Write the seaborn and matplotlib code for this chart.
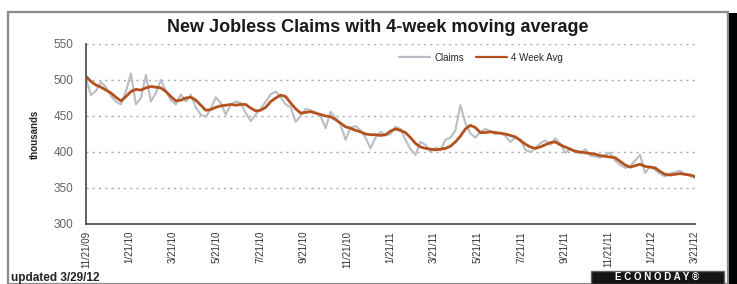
import numpy as np
import pandas as pd
import matplotlib.pyplot as plt
import seaborn as sns
from matplotlib.patches import Rectangle

# Weekly initial jobless claims (thousands)
claims = [502, 479, 485, 497, 490, 478, 470, 466, 484, 509,
          466, 475, 507, 470, 482, 500, 485, 472, 466, 480,
          470, 480, 462, 452, 449, 460, 476, 468, 452, 466,
          470, 468, 454, 443, 452, 460, 470, 480, 484, 476,
          466, 462, 442, 450, 460, 458, 455, 450, 433, 456,
          447, 438, 417, 434, 436, 430, 420, 405, 420, 428,
          423, 425, 435, 432, 417, 404, 396, 414, 410, 400,
          406, 402, 417, 420, 430, 465, 440, 426, 420, 428,
          432, 429, 425, 427, 422, 414, 420, 418, 403, 400,
          405, 412, 416, 410, 419, 412, 399, 404, 400, 398,
          404, 395, 394, 392, 396, 399, 388, 382, 378, 380,
          388, 396, 371, 380, 375, 370, 366, 370, 372, 374,
          369, 367, 364]

avg4 = [505, 498, 493, 490, 486, 482, 476, 471, 477, 484,
        487, 486, 489, 491, 490, 489, 484, 477, 471, 472,
        475, 476, 472, 465, 458, 459, 462, 464, 465, 466,
        465, 466, 466, 461, 457, 458, 462, 470, 475, 479,
        477, 468, 460, 454, 455, 456, 454, 452, 450, 449,
        445, 440, 435, 433, 430, 428, 425, 424, 424, 423,
        424, 429, 432, 430, 427, 420, 412, 407, 405, 404,
        403, 404, 405, 408, 414, 422, 432, 437, 434, 427,
        427, 428, 427, 426, 425, 423, 421, 416, 411, 407,
        405, 407, 410, 413, 414, 410, 407, 404, 401, 400,
        399, 398, 397, 395, 394, 393, 392, 387, 382, 379,
        381, 383, 380, 379, 378, 373, 369, 368, 369, 370,
        369, 368, 366]

tick_labels = ['11/21/09', '1/21/10', '3/21/10', '5/21/10', '7/21/10',
               '9/21/10', '11/21/10', '1/21/11', '3/21/11', '5/21/11',
               '7/21/11', '9/21/11', '11/21/11', '1/21/12', '3/21/12']

df = pd.DataFrame({'week': np.arange(len(claims)), 'Claims': claims, '4 Week Avg': avg4})

sns.set_style("white")
plt.rcParams['font.family'] = ['Liberation Sans', 'DejaVu Sans']

fig = plt.figure(figsize=(7.37, 2.84), dpi=100)
W, H = 737, 284
ax = fig.add_axes([86 / W, 1 - 224 / H, (695 - 86) / W, (224 - 44) / H])

# chart frame, right-hand dark strip, logo box
fig.patches.append(Rectangle((8 / W, 0), 720 / W, 1 - 12 / H, transform=fig.transFigure,
                             fill=False, edgecolor='#8a8a8a', lw=1.6))
fig.patches.append(Rectangle((729 / W, 0), 8 / W, 1 - 13 / H, transform=fig.transFigure,
                             facecolor='black', edgecolor='none'))
fig.patches.append(Rectangle((591 / W, 0), 133 / W, 13 / H, transform=fig.transFigure,
                             facecolor='#151515', edgecolor='#666666', lw=1))

sns.lineplot(data=df, x='week', y='Claims', ax=ax, color='#b9bec6', lw=1.5, label='Claims')
sns.lineplot(data=df, x='week', y='4 Week Avg', ax=ax, color='#b4521e', lw=2, label='4 Week Avg')

ax.set_xlim(0, len(claims) - 1)
ax.set_ylim(300, 550)
ax.set_yticks([300, 350, 400, 450, 500, 550])
ax.set_xticks(np.linspace(0, len(claims) - 1, len(tick_labels)))
ax.set_xticklabels(tick_labels, rotation=90, fontsize=7, color='#333333')
ax.tick_params(axis='y', labelsize=8.5, labelcolor='#666666', length=3, width=1, color='#555555', pad=6)
ax.tick_params(axis='x', length=3, width=1, color='#555555', direction='out', pad=2)
ax.yaxis.grid(True, ls=(0, (1.5, 3)), color='#aaaaaa', lw=1)
ax.set_axisbelow(True)
for s in ['top', 'right']:
    ax.spines[s].set_visible(False)
for s in ['left', 'bottom']:
    ax.spines[s].set_color('#555555')
    ax.spines[s].set_linewidth(1.3)
ax.set_xlabel('')
ax.set_ylabel('thousands', fontsize=7, fontweight='bold', labelpad=10)

leg = ax.legend(loc='upper left', bbox_to_anchor=(0.50, 1.0), ncol=2, frameon=False,
                fontsize=7, handlelength=3.2, columnspacing=1.2, handletextpad=0.4)
for line in leg.get_lines():
    line.set_linewidth(1.6)

fig.text(378 / W, 1 - 27 / H, 'New Jobless Claims with 4-week moving average',
         ha='center', va='center', fontsize=13, fontweight='bold', color='#1a1a1a')
fig.text(11 / W, 1 - 278 / H, 'updated 3/29/12', ha='left', va='center',
         fontsize=8.5, fontweight='bold', color='#222222')
fig.text(657 / W, 1 - 277 / H, 'E C O N O D A Y \u00ae', ha='center', va='center', fontsize=7,
         fontweight='bold', color='white')

fig.savefig('out.png', dpi=100)
